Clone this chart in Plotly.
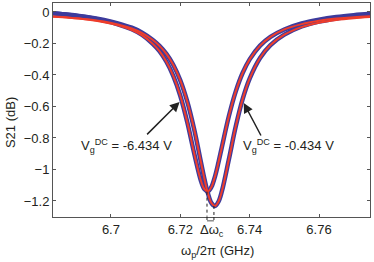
import plotly.graph_objects as go

# frequency points (GHz)
freq = [6.683, 6.688, 6.693, 6.698, 6.702, 6.706, 6.709, 6.712, 6.714, 6.716,
        6.718, 6.720, 6.722, 6.724, 6.726, 6.727, 6.728, 6.729, 6.730, 6.731,
        6.732, 6.734, 6.736, 6.738, 6.740, 6.743, 6.746, 6.750, 6.755, 6.760,
        6.765, 6.770, 6.775]

# fit (red) and data (blue) for Vg = -6.434 V
fit_a = [-0.030, -0.037, -0.048, -0.065, -0.085, -0.115, -0.149, -0.201, -0.249, -0.316,
         -0.407, -0.532, -0.699, -0.897, -1.075, -1.126, -1.139, -1.110, -1.045, -0.956,
         -0.857, -0.662, -0.504, -0.386, -0.301, -0.214, -0.158, -0.111, -0.077, -0.056,
         -0.042, -0.033, -0.027]
dat_a = [-0.008, -0.019, -0.034, -0.055, -0.078, -0.110, -0.146, -0.201, -0.249, -0.316,
         -0.407, -0.532, -0.699, -0.897, -1.075, -1.126, -1.139, -1.110, -1.045, -0.956,
         -0.857, -0.662, -0.504, -0.386, -0.301, -0.214, -0.158, -0.111, -0.073, -0.049,
         -0.032, -0.020, -0.011]

# fit (red) and data (blue) for Vg = -0.434 V
fit_b = [-0.029, -0.036, -0.046, -0.061, -0.079, -0.105, -0.134, -0.176, -0.215, -0.266,
         -0.337, -0.434, -0.568, -0.745, -0.959, -1.064, -1.154, -1.214, -1.232, -1.205,
         -1.138, -0.937, -0.726, -0.552, -0.423, -0.292, -0.210, -0.144, -0.096, -0.068,
         -0.051, -0.040, -0.032]
dat_b = [-0.007, -0.018, -0.032, -0.051, -0.072, -0.100, -0.131, -0.176, -0.215, -0.266,
         -0.337, -0.434, -0.568, -0.745, -0.959, -1.064, -1.154, -1.214, -1.232, -1.205,
         -1.138, -0.937, -0.726, -0.552, -0.423, -0.292, -0.210, -0.144, -0.092, -0.061,
         -0.041, -0.027, -0.016]

# resonance minima
min_f = [6.7277, 6.7297]
min_v = [-1.141, -1.232]

x_ticks = [6.70, 6.72, 6.74, 6.76]
x_tick_text = ["6.7", "6.72", "6.74", "6.76"]
y_ticks = [0, -0.2, -0.4, -0.6, -0.8, -1.0, -1.2]
y_tick_text = ["0", "\u22120.2", "\u22120.4", "\u22120.6", "\u22120.8", "\u22121", "\u22121.2"]

BLUE = "#3d3b9c"
RED = "#ee3d2b"
FONT = "Liberation Sans, Arial, sans-serif"
TXT = "#231f20"

fig = go.Figure()
for d in (dat_a, dat_b):
    fig.add_trace(go.Scatter(x=freq, y=d, mode="lines", line=dict(color=BLUE, width=4.5, shape="spline"),
                             showlegend=False, hoverinfo="skip"))
for d in (fit_a, fit_b):
    fig.add_trace(go.Scatter(x=freq, y=d, mode="lines", line=dict(color=RED, width=2, shape="spline"),
                             showlegend=False, hoverinfo="skip"))

shapes = []
for f, v in zip(min_f, min_v):
    shapes.append(dict(type="line", xref="x", yref="y", x0=f, x1=f, y0=v, y1=-1.3,
                       line=dict(color="#222", width=1, dash="dot")))
    shapes.append(dict(type="line", xref="x", yref="paper", x0=f, x1=f, y0=0, y1=-0.022,
                       line=dict(color="#222", width=1, dash="dot")))
shapes.append(dict(type="line", xref="x", yref="paper", x0=min_f[0], x1=min_f[1], y0=-0.018, y1=-0.018,
                   line=dict(color="#555", width=1)))

annotations = [
    dict(x=6.7198, y=-0.571, xref="x", yref="y", text="", showarrow=True, ax=-34, ay=34,
         arrowhead=2, arrowsize=1.3, arrowwidth=1.5, arrowcolor="#222"),
    dict(x=6.7383, y=-0.578, xref="x", yref="y", text="", showarrow=True, ax=18, ay=34,
         arrowhead=2, arrowsize=1.3, arrowwidth=1.5, arrowcolor="#222"),
    dict(x=6.7045, y=-0.851, xref="x", yref="y", showarrow=False,
         text="V<sub>g</sub><sup>DC</sup> = -6.434 V", font=dict(size=13, color=TXT, family=FONT)),
    dict(x=6.7512, y=-0.851, xref="x", yref="y", showarrow=False,
         text="V<sub>g</sub><sup>DC</sup> = -0.434 V", font=dict(size=13, color=TXT, family=FONT)),
    dict(x=6.7290, y=-0.065, xref="x", yref="paper", showarrow=False, yanchor="middle",
         text="\u0394\u03c9<sub>c</sub>", font=dict(size=13, color=TXT, family=FONT)),
    dict(x=0.52, y=-0.16, xref="paper", yref="paper", showarrow=False, yanchor="middle",
         text="\u03c9<sub>p</sub>/2\u03c0 (GHz)", font=dict(size=13, color=TXT, family=FONT)),
    dict(x=-0.136, y=-0.70, xref="paper", yref="y", showarrow=False, textangle=-90,
         xanchor="center", yanchor="middle",
         text="S21 (dB)", font=dict(size=13, color=TXT, family=FONT)),
]

axis_common = dict(showline=True, linecolor="#555", linewidth=1, mirror="ticks", ticks="inside",
                   ticklen=3, tickcolor="#555", showgrid=False, zeroline=False, automargin=False,
                   tickfont=dict(size=13, color=TXT, family=FONT))

fig.update_layout(
    width=374, height=262,
    margin=dict(l=53, r=4, t=3, b=45),
    paper_bgcolor="white", plot_bgcolor="white",
    shapes=shapes, annotations=annotations,
    xaxis=dict(range=[6.6833, 6.7747], tickvals=x_ticks, ticktext=x_tick_text, **axis_common),
    yaxis=dict(range=[-1.302, 0.057], tickvals=y_ticks, ticktext=y_tick_text, **axis_common),
)

fig.write_html("out.html", config={"displayModeBar": False},
               post_script="document.body.style.margin='0';document.body.style.overflow='hidden';")
